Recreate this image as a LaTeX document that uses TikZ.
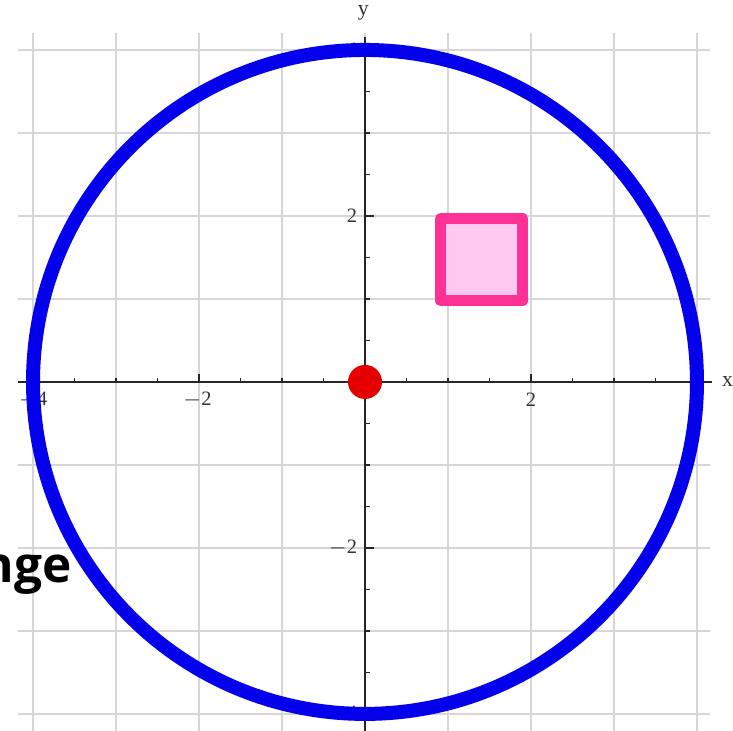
\documentclass[tikz,border=0pt]{standalone}
\usepackage{fontspec}
\setmainfont{Liberation Serif}
\newfontfamily\headsans{Open Sans}
\definecolor{gridgray}{RGB}{214,214,214}
\definecolor{ringblue}{RGB}{4,0,236}
\definecolor{dotred}{RGB}{228,0,0}
\definecolor{sqedge}{RGB}{255,48,150}
\definecolor{sqfill}{RGB}{255,200,240}
\begin{document}
\begin{tikzpicture}[x=1cm,y=1cm,
  gridline/.style={draw=gridgray,line width=0.5pt},
  axisline/.style={draw=black!85,line width=0.55pt},
  ticklbl/.style={font=\fontsize{7}{8}\selectfont,inner sep=0.5pt,text=black!80},
  axlbl/.style={font=\fontsize{7.5}{8}\selectfont,inner sep=0.5pt,text=black!80},
  ring/.style={draw=ringblue,line width=0.1687cm},
  sqbox/.style={draw=sqedge,fill=sqfill,line width=0.1325cm,line join=round},
  dotstyle/.style={circle,fill=dotred,minimum size=0.41cm,inner sep=0pt},
  bigword/.style={font=\headsans\bfseries\fontsize{17}{20}\selectfont,inner sep=0pt,text=black}]
\useasboundingbox (-4.398,-4.205) rectangle (4.434,4.602);
% grid
\foreach \g in {-4,...,4} {
  \draw[gridline] (\g,-4.3) -- (\g,4.2);
  \draw[gridline] (-4.18,\g) -- (4.16,\g);
}
% axes
\draw[axisline] (-4.18,0) -- (4.18,0);
\draw[axisline] (0,-4.3) -- (0,4.16);
% minor ticks
\foreach \t in {-3.5,-3,-2.5,-1.5,-1,-0.5,0.5,1,1.5,2.5,3,3.5} {
  \draw[axisline] (\t,0) -- (\t,0.05);
  \draw[axisline] (0,\t) -- (0.06,\t);
}
% major ticks
\foreach \t in {-4,-2,2,4} {
  \draw[axisline] (\t,0) -- (\t,0.1);
  \draw[axisline] (0,\t) -- (0.11,\t);
}
% tick labels
\node[ticklbl] (xm4) at (-4,-0.22) {$-$4};
\node[ticklbl] (xm2) at (-2.02,-0.22) {$-$2};
\node[ticklbl] (xp2) at (2,-0.22) {2};
\node[ticklbl] (xp4) at (4,-0.22) {4};
\node[ticklbl,anchor=east] (ym4) at (-0.07,-4) {$-$4};
\node[ticklbl,anchor=east] (ym2) at (-0.07,-2) {$-$2};
\node[ticklbl,anchor=east] (yp2) at (-0.07,2) {2};
\node[ticklbl,anchor=east] (yp4) at (-0.07,4) {4};
% axis labels
\node[axlbl] (xlabel) at (4.37,0.0) {x};
\node[axlbl] (ylabel) at (-0.02,4.45) {y};
% circle
\draw[ring] (0,0) circle (4);
% square
\draw[sqbox] (0.91,0.98) rectangle (1.9,1.97);
% dot
\node[dotstyle] (origin) at (0,0) {};
% cut-off word
\node[bigword,anchor=base east] (word) at (-3.53,-2.42) {nge};
\end{tikzpicture}
\end{document}
